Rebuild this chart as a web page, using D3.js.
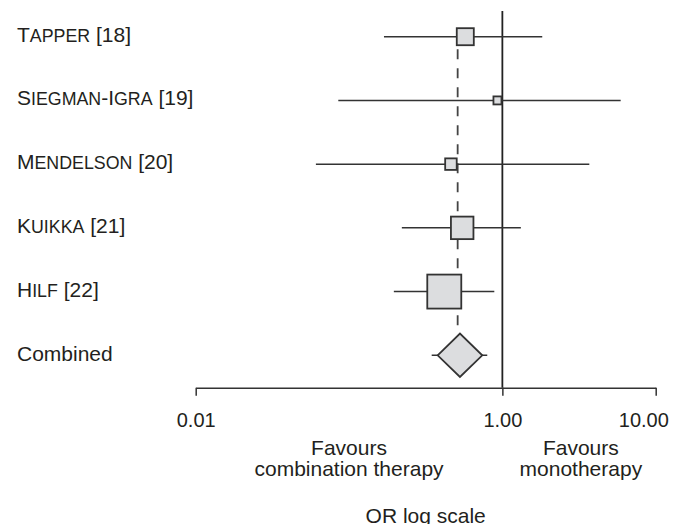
<!DOCTYPE html>
<html>
<head>
<meta charset="utf-8">
<script src="https://cdn.jsdelivr.net/npm/d3@7"></script>
<style>
  body { margin: 0; background: #fff; }
  text { font-family: "Liberation Sans", Arial, sans-serif; fill: #231f20; }
</style>
</head>
<body>
<svg id="chart" width="675" height="524"></svg>
<script>
// study data
var studies = ["Tapper", "Siegman-Igra", "Mendelson", "Kuikka", "Hilf"];
var refs = ["[18]", "[19]", "[20]", "[21]", "[22]"];
var oddsRatio = [0.573, 0.929, 0.462, 0.547, 0.418];
var ciLower = [0.169, 0.0851, 0.0608, 0.221, 0.196];
var ciUpper = [1.82, 5.91, 3.69, 1.32, 0.886];
var weights = [13.5, 3.0, 6.2, 23.6, 53.8];

var combinedLabel = "Combined";
var combinedOR = 0.529;
var combinedLower = 0.346;
var combinedUpper = 0.797;
var pooledLine = 0.511;

var tickValues = [0.01, 1, 10];
var tickLabels = ["0.01", "1.00", "10.00"];

var svg = d3.select("#chart");

var x = d3.scaleLog()
  .domain([0.01, 10])
  .range([195.7, 655.7]);

var rowNames = studies.concat([combinedLabel]);
var y = d3.scalePoint()
  .domain(rowNames)
  .range([36.7, 355.3]);

var size = d3.scaleSqrt()
  .domain([0, d3.max(weights)])
  .range([0, 34]);

var axisY = 387.7;
var ink = "#333";

var data = studies.map(function (s, i) {
  return { name: s, ref: refs[i], or: oddsRatio[i], lo: ciLower[i], hi: ciUpper[i], w: weights[i] };
});

// dashed line at the pooled estimate
svg.append("line")
  .attr("x1", x(pooledLine))
  .attr("x2", x(pooledLine))
  .attr("y1", y(studies[0]) + 12.5)
  .attr("y2", y(combinedLabel) - 21)
  .attr("stroke", "#444")
  .attr("stroke-width", 1.8)
  .attr("stroke-dasharray", "10,9");

// line of no effect
svg.append("line")
  .attr("x1", x(1))
  .attr("x2", x(1))
  .attr("y1", 11)
  .attr("y2", axisY)
  .attr("stroke", "#222")
  .attr("stroke-width", 1.8);

// confidence intervals
svg.selectAll(".ci").data(data).enter()
  .append("line")
  .attr("class", "ci")
  .attr("x1", function (d) { return x(d.lo); })
  .attr("x2", function (d) { return x(d.hi); })
  .attr("y1", function (d) { return y(d.name); })
  .attr("y2", function (d) { return y(d.name); })
  .attr("stroke", ink)
  .attr("stroke-width", 1.5);

// weighted squares
svg.selectAll(".box").data(data).enter()
  .append("rect")
  .attr("class", "box")
  .attr("x", function (d) { return x(d.or) - size(d.w) / 2; })
  .attr("y", function (d) { return y(d.name) - size(d.w) / 2; })
  .attr("width", function (d) { return size(d.w); })
  .attr("height", function (d) { return size(d.w); })
  .attr("fill", "#dcdddf")
  .attr("stroke", ink)
  .attr("stroke-width", 1.8);

// combined estimate
var cy = y(combinedLabel);
svg.append("line")
  .attr("x1", x(combinedLower))
  .attr("x2", x(combinedUpper))
  .attr("y1", cy)
  .attr("y2", cy)
  .attr("stroke", ink)
  .attr("stroke-width", 1.5);

var cx = x(combinedOR), hw = 22.3, hh = 21.7;
svg.append("path")
  .attr("d", "M" + (cx - hw) + "," + cy + "L" + cx + "," + (cy - hh) +
    "L" + (cx + hw) + "," + cy + "L" + cx + "," + (cy + hh) + "Z")
  .attr("fill", "#dcdddf")
  .attr("stroke", ink)
  .attr("stroke-width", 1.8);

// study labels in small caps
function smallCaps(textSel, name) {
  var parts = name.split(/(-)/);
  parts.forEach(function (p) {
    if (p === "-") {
      textSel.append("tspan").text("-");
      return;
    }
    textSel.append("tspan").text(p.charAt(0).toUpperCase());
    textSel.append("tspan").style("font-size", "17.8px").text(p.slice(1).toUpperCase());
  });
}

var labels = svg.selectAll(".label").data(data).enter()
  .append("text")
  .attr("class", "label")
  .attr("x", 17)
  .attr("y", function (d) { return y(d.name) + 5; })
  .style("font-size", "21px");

labels.each(function (d) {
  var t = d3.select(this);
  smallCaps(t, d.name);
  t.append("tspan").text(" " + d.ref);
});

svg.append("text")
  .attr("x", 17)
  .attr("y", cy + 5.4)
  .style("font-size", "21px")
  .text(combinedLabel);

// axis
var axis = svg.append("g")
  .attr("transform", "translate(0," + axisY + ")")
  .call(d3.axisBottom(x)
    .tickValues(tickValues)
    .tickFormat(function (d, i) { return tickLabels[i]; })
    .tickSizeInner(8)
    .tickSizeOuter(0)
    .tickPadding(17.4));

axis.select(".domain").attr("stroke", ink).attr("stroke-width", 1.5);
axis.selectAll(".tick line").attr("stroke", ink).attr("stroke-width", 1.5);
axis.selectAll(".tick text")
  .style("font-size", "20px")
  .style("font-family", "'Liberation Sans', Arial, sans-serif")
  .attr("fill", "#231f20")
  .attr("dx", function (d, i) { return i === tickValues.length - 1 ? -12.4 : 0; });

// direction notes
var notes = [
  { at: 0.1, lines: ["Favours", "combination therapy"] },
  { at: 3.25, lines: ["Favours", "monotherapy"] }
];
notes.forEach(function (n) {
  n.lines.forEach(function (l, i) {
    svg.append("text")
      .attr("x", x(n.at))
      .attr("y", 455 + i * 21)
      .attr("text-anchor", "middle")
      .style("font-size", "21px")
      .text(l);
  });
});

svg.append("text")
  .attr("x", (x(0.01) + x(10)) / 2)
  .attr("y", 522.6)
  .attr("text-anchor", "middle")
  .style("font-size", "21px")
  .text("OR log scale");
</script>
</body>
</html>
